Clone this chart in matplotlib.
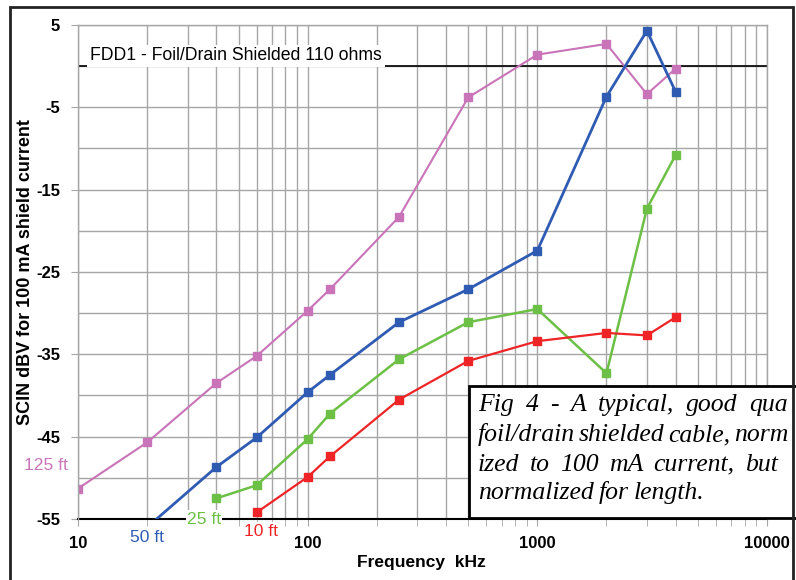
import matplotlib
matplotlib.use("Agg")
import matplotlib.pyplot as plt
from matplotlib.patches import Rectangle
from matplotlib.ticker import LogLocator, FixedLocator, NullFormatter
import numpy as np

# ---------------- data ----------------
freq_125 = [10, 20, 40, 60, 100, 125, 250, 500, 1000, 2000, 3000, 4000]
scin_125 = [-51.3, -45.7, -38.5, -35.2, -29.7, -27.1, -18.3, -3.8, 1.4, 2.7, -3.4, -0.3]

freq_50 = [20, 40, 60, 100, 125, 250, 500, 1000, 2000, 3000, 4000]
scin_50 = [-56.0, -48.7, -45.1, -39.6, -37.5, -31.1, -27.1, -22.4, -3.7, 4.3, -3.1]

freq_25 = [40, 60, 100, 125, 250, 500, 1000, 2000, 3000, 4000]
scin_25 = [-52.5, -50.9, -45.3, -42.2, -35.6, -31.1, -29.5, -37.3, -17.3, -10.8]

freq_10 = [60, 100, 125, 250, 500, 1000, 2000, 3000, 4000]
scin_10 = [-54.2, -49.9, -47.4, -40.5, -35.8, -33.4, -32.4, -32.7, -30.5]

x_ticks = [10, 100, 1000, 10000]
x_tick_labels = ["10", "100", "1000", "10000"]
y_ticks = [5, -5, -15, -25, -35, -45, -55]
y_tick_labels = ["5", "-5", "-15", "-25", "-35", "-45", "-55"]

series_names = ["125 ft", "50 ft", "25 ft", "10 ft"]
title_text = "FDD1 - Foil/Drain Shielded 110 ohms"
x_label = "Frequency  kHz"
y_label = "SCIN dBV for 100 mA shield current"
caption_lines = [
    "Fig 4 - A typical, good qua",
    "foil/drain shielded cable, norm",
    "ized to 100 mA current, but",
    "normalized for length.",
]

# ---------------- style ----------------
W, H = 796, 580
C_PINK = "#C973B8"
C_BLUE = "#2F5BB3"
C_GREEN = "#6DC046"
C_RED = "#EE2426"
GRID = "#A6A6A6"
SANS = ["Liberation Sans", "DejaVu Sans"]
SERIF = ["Liberation Serif", "DejaVu Serif"]

def fx(x):
    return x / W

def fy(y):
    return 1 - y / H

fig = plt.figure(figsize=(W / 100, H / 100), dpi=100)
fig.patch.set_facecolor("white")
ax = fig.add_axes([fx(78), fy(519), fx(767) - fx(78), fy(25) - fy(519)])

ax.set_xscale("log")
ax.set_xlim(10, 10000)
ax.set_ylim(-55, 5)

# grid
ax.xaxis.set_major_locator(FixedLocator(x_ticks))
ax.xaxis.set_minor_locator(LogLocator(base=10, subs=np.arange(2, 10)))
ax.xaxis.set_minor_formatter(NullFormatter())
ax.set_xticklabels(x_tick_labels)
ax.yaxis.set_major_locator(FixedLocator(y_ticks))
ax.set_yticklabels(y_tick_labels)
ax.yaxis.set_minor_locator(FixedLocator(list(range(-50, 5, 10))))
ax.grid(True, which="both", axis="x", color=GRID, lw=1.0)
ax.grid(True, which="both", axis="y", color=GRID, lw=1.0)
ax.set_axisbelow(True)
ax.axhline(0, color="black", lw=1.2, zorder=1.5)

for side in ["top", "right", "left"]:
    ax.spines[side].set_color(GRID)
    ax.spines[side].set_linewidth(1.0)
ax.spines["bottom"].set_color("black")
ax.spines["bottom"].set_linewidth(1.5)
ax.spines["bottom"].set_zorder(1.5)

ax.tick_params(axis="x", which="both", direction="out", length=5, color=GRID, pad=7)
ax.tick_params(axis="y", which="major", direction="out", length=5, color=GRID, pad=8)
ax.tick_params(axis="y", which="minor", length=0)
for lab in ax.get_xticklabels() + ax.get_yticklabels():
    lab.set_fontfamily(SANS)
    lab.set_fontweight("bold")
    lab.set_fontsize(12)

fig.text(fx(421), fy(563), x_label, fontfamily=SANS, fontweight="bold", fontsize=12.5,
         ha="center", va="center")
fig.text(fx(26), fy(272), y_label, fontfamily=SANS, fontweight="bold", fontsize=13,
         ha="center", va="center", rotation=90)

# series
kw = dict(marker="s", markersize=5.5, clip_on=True)
ax.plot(freq_125, scin_125, color=C_PINK, lw=1.5, **kw)
ax.plot(freq_50, scin_50, color=C_BLUE, lw=2.0, **kw)
ax.plot(freq_25, scin_25, color=C_GREEN, lw=1.8, **kw)
ax.plot(freq_10, scin_10, color=C_RED, lw=1.6, **kw)

# title inside plot with white background over the 0-line
fig.text(fx(90), fy(56), title_text, fontfamily=SANS, fontsize=12.7,
         ha="left", va="center",
         bbox=dict(facecolor="white", edgecolor="none", pad=2), zorder=4)

# series labels
lab_pos = [(46, 465, C_PINK), (147, 538, C_BLUE), (204, 519, C_GREEN), (261, 531, C_RED)]
for name, (px_, py_, c) in zip(series_names, lab_pos):
    fig.text(fx(px_), fy(py_), name, color=c, fontfamily=SANS, fontsize=12.6,
             ha="center", va="center",
             bbox=dict(facecolor="white", edgecolor="none", pad=1), zorder=4)

# caption box
fig.patches.append(Rectangle((fx(469), fy(518)), fx(800) - fx(469), fy(386) - fy(518),
                             transform=fig.transFigure, facecolor="white",
                             edgecolor="black", lw=2.0, zorder=5))

# justified caption text (words distributed between the left edge and a target right edge)
renderer = fig.canvas.get_renderer()
line_y = [405, 435, 465, 493]
line_right = [788, 788, 778, None]
x_left = 478
for line, ly, xr in zip(caption_lines, line_y, line_right):
    words = line.split(" ")
    texts = [fig.text(fx(x_left), fy(ly), w, fontfamily=SERIF, style="italic", fontsize=18.5,
                      ha="left", va="center", zorder=6) for w in words]
    widths = [t.get_window_extent(renderer).width for t in texts]
    if xr is None:
        gap = 5.0
    else:
        gap = max(3.0, (xr - x_left - sum(widths)) / max(1, len(words) - 1))
    cx = x_left
    for t, wdt in zip(texts, widths):
        t.set_x(fx(cx))
        cx += wdt + gap

# outer frame
fig.patches.append(Rectangle((fx(10), fy(600)), fx(793) - fx(10), fy(7) - fy(600),
                             transform=fig.transFigure, facecolor="none",
                             edgecolor="#222222", lw=2.0, zorder=10, clip_on=False))

fig.savefig("out.png", dpi=100, facecolor="white")
